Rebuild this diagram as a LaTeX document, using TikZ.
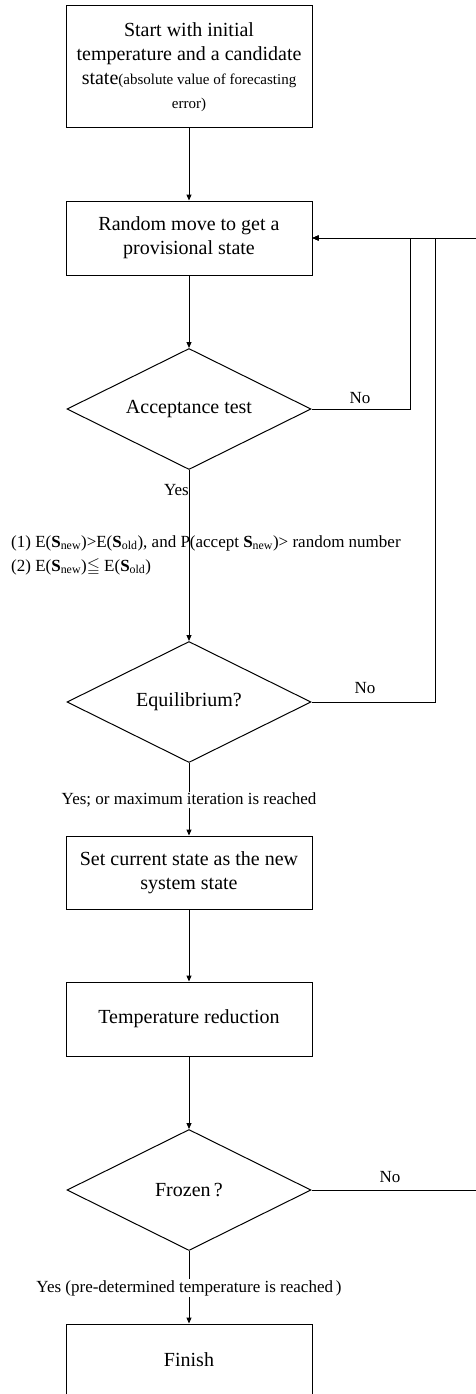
\documentclass[tikz,border=0pt]{standalone}
\usepackage{amssymb}
\usepackage{fontspec}
\setmainfont{Liberation Serif}
\usetikzlibrary{shapes.geometric,arrows.meta}
\begin{document}
\begin{tikzpicture}[x=1pt,y=-1pt,
  box/.style={draw,line width=1pt,minimum width=246pt,inner sep=0pt,align=center,font=\fontsize{20}{24}\selectfont},
  dec/.style={draw,diamond,line width=1pt,minimum width=244pt,minimum height=121pt,inner sep=0pt,aspect=2,font=\fontsize{20}{24}\selectfont},
  lab/.style={font=\fontsize{17}{21}\selectfont,inner sep=1pt},
  conn/.style={line width=1pt,-{Triangle[length=6pt,width=5pt]}},
  ln/.style={line width=1pt}]
\useasboundingbox (0,0) rectangle (476,1394);
\node[box,minimum height=122pt] (b1) at (189,67) {Start with initial\\temperature and a candidate\\state{\fontsize{15}{21}\selectfont(absolute value of forecasting}\\{\fontsize{15}{21}\selectfont error)}};
\node[box,minimum height=74pt] (b2) at (189,238) {Random move to get a\\provisional state};
\node[dec] (d1) at (189,409) {Acceptance test};
\node[dec] (d2) at (189,702) {Equilibrium?};
\node[box,minimum height=73pt] (b3) at (189,872.5) {Set current state as the new\\system state};
\node[box,minimum height=74pt] (b4) at (189,1019) {Temperature reduction};
\node[dec] (d3) at (189,1190) {Frozen\,?};
\node[box,minimum height=72pt] (b5) at (189,1360) {Finish};
\coordinate (k1) at (410,238);
\coordinate (k2) at (435,238);
\coordinate (k3) at (479,238);
\draw[conn] (b1.south) -- (b2.north);
\draw[conn] (b2.south) -- (d1.north);
\draw[conn] (d1.south) -- (d2.north);
\draw[conn] (d2.south) -- (b3.north);
\draw[conn] (b3.south) -- (b4.north);
\draw[conn] (b4.south) -- (d3.north);
\draw[conn] (d3.south) -- (b5.north);
\draw[conn] (d1.east) -| (k1) -- (b2.east);
\draw[conn] (d2.east) -| (k2) -- (b2.east);
\draw[conn] (d3.east) -| (k3) -- (b2.east);
\node[lab] (n1) at (360,398) {No};
\node[lab] (n2) at (365,688) {No};
\node[lab] (n3) at (390,1177) {No};
\node[lab,anchor=east] (y1) at (190,490) {Yes};
\node[lab,anchor=west] (c1) at (10,543) {(1) E(\textbf{S}\textsubscript{new})>E(\textbf{S}\textsubscript{old}), and P(accept \textbf{S}\textsubscript{new})> random number};
\node[lab,anchor=west] (c2) at (10,567) {(2) E(\textbf{S}\textsubscript{new})$\leqq$ E(\textbf{S}\textsubscript{old})};
\node[lab,fill=white] (y2) at (189,800) {Yes; or maximum iteration is reached};
\node[lab,fill=white] (y3) at (189,1288) {Yes (pre-determined temperature is reached\,)};
\end{tikzpicture}
\end{document}
